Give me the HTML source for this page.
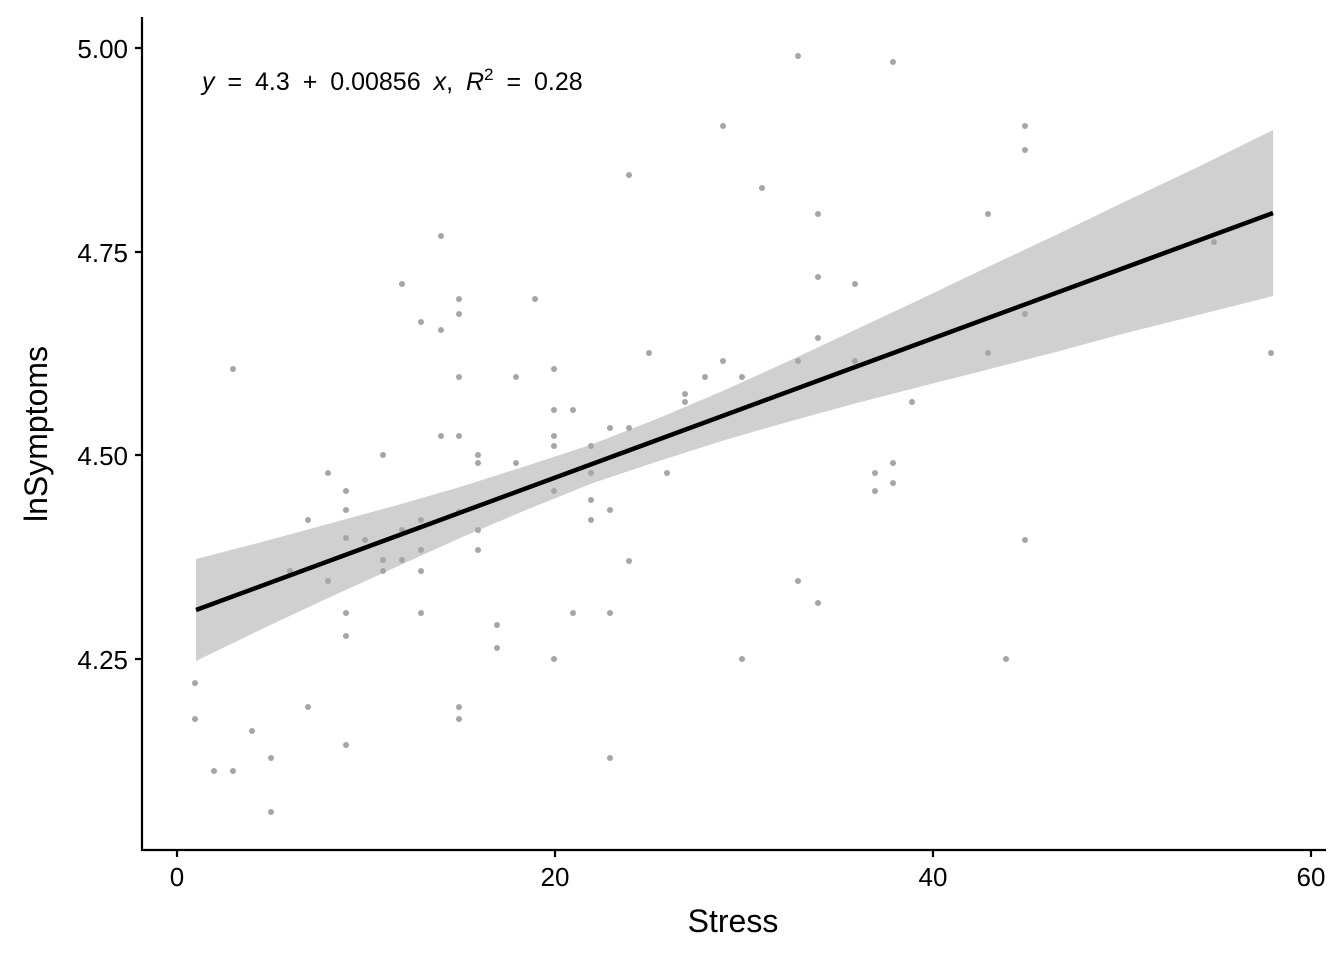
<!DOCTYPE html>
<html><head><meta charset="utf-8"><style>body{margin:0;background:#fff}svg{display:block}</style></head><body>
<svg width="1344" height="960" xmlns="http://www.w3.org/2000/svg" font-family="Liberation Sans, Arial, sans-serif">
<rect width="1344" height="960" fill="#fff"/>
<polygon fill="#d0d0d0" points="196,559 262,542 328,524 394,506 460,487 526,466 593,444 659,418 725,390 791,360 857,329 923,298 990,266 1056,235 1122,203 1198,167 1273,130 1273,296 1198,315 1122,334 1056,352 990,369 923,386 857,403 791,421 725,440 659,461 593,483 526,510 460,538 394,568 328,598 262,629 196,661"/>
<g fill="#a6a6a6">
<circle cx="798" cy="56" r="3"/><circle cx="893" cy="62" r="3"/><circle cx="723" cy="126" r="3"/><circle cx="1025" cy="126" r="3"/><circle cx="1025" cy="150" r="3"/><circle cx="629" cy="175" r="3"/><circle cx="762" cy="188" r="3"/><circle cx="818" cy="214" r="3"/><circle cx="988" cy="214" r="3"/><circle cx="441" cy="236" r="3"/><circle cx="1214" cy="242" r="3"/><circle cx="402" cy="284" r="3"/><circle cx="818" cy="277" r="3"/><circle cx="459" cy="299" r="3"/><circle cx="535" cy="299" r="3"/><circle cx="855" cy="284" r="3"/><circle cx="421" cy="322" r="3"/><circle cx="459" cy="314" r="3"/><circle cx="1025" cy="314" r="3"/><circle cx="441" cy="330" r="3"/><circle cx="818" cy="338" r="3"/><circle cx="649" cy="353" r="3"/><circle cx="723" cy="361" r="3"/><circle cx="798" cy="361" r="3"/><circle cx="855" cy="361" r="3"/><circle cx="988" cy="353" r="3"/><circle cx="233" cy="369" r="3"/><circle cx="1271" cy="353" r="3"/><circle cx="459" cy="377" r="3"/><circle cx="516" cy="377" r="3"/><circle cx="554" cy="369" r="3"/><circle cx="705" cy="377" r="3"/><circle cx="742" cy="377" r="3"/><circle cx="685" cy="394" r="3"/><circle cx="685" cy="402" r="3"/><circle cx="912" cy="402" r="3"/><circle cx="554" cy="410" r="3"/><circle cx="573" cy="410" r="3"/><circle cx="441" cy="436" r="3"/><circle cx="459" cy="436" r="3"/><circle cx="554" cy="436" r="3"/><circle cx="629" cy="428" r="3"/><circle cx="610" cy="428" r="3"/><circle cx="383" cy="455" r="3"/><circle cx="554" cy="446" r="3"/><circle cx="591" cy="446" r="3"/><circle cx="328" cy="473" r="3"/><circle cx="516" cy="463" r="3"/><circle cx="478" cy="455" r="3"/><circle cx="478" cy="463" r="3"/><circle cx="667" cy="473" r="3"/><circle cx="875" cy="473" r="3"/><circle cx="893" cy="463" r="3"/><circle cx="893" cy="483" r="3"/><circle cx="875" cy="491" r="3"/><circle cx="346" cy="491" r="3"/><circle cx="554" cy="491" r="3"/><circle cx="591" cy="473" r="3"/><circle cx="591" cy="500" r="3"/><circle cx="346" cy="510" r="3"/><circle cx="610" cy="510" r="3"/><circle cx="308" cy="520" r="3"/><circle cx="591" cy="520" r="3"/><circle cx="346" cy="538" r="3"/><circle cx="459" cy="512" r="3"/><circle cx="365" cy="540" r="3"/><circle cx="402" cy="530" r="3"/><circle cx="421" cy="520" r="3"/><circle cx="478" cy="530" r="3"/><circle cx="421" cy="550" r="3"/><circle cx="383" cy="560" r="3"/><circle cx="402" cy="560" r="3"/><circle cx="629" cy="561" r="3"/><circle cx="290" cy="571" r="3"/><circle cx="383" cy="571" r="3"/><circle cx="421" cy="571" r="3"/><circle cx="478" cy="550" r="3"/><circle cx="1025" cy="540" r="3"/><circle cx="328" cy="581" r="3"/><circle cx="798" cy="581" r="3"/><circle cx="346" cy="613" r="3"/><circle cx="421" cy="613" r="3"/><circle cx="573" cy="613" r="3"/><circle cx="610" cy="613" r="3"/><circle cx="818" cy="603" r="3"/><circle cx="497" cy="625" r="3"/><circle cx="346" cy="636" r="3"/><circle cx="497" cy="648" r="3"/><circle cx="554" cy="659" r="3"/><circle cx="742" cy="659" r="3"/><circle cx="1006" cy="659" r="3"/><circle cx="195" cy="683" r="3"/><circle cx="308" cy="707" r="3"/><circle cx="459" cy="707" r="3"/><circle cx="195" cy="719" r="3"/><circle cx="459" cy="719" r="3"/><circle cx="252" cy="731" r="3"/><circle cx="346" cy="745" r="3"/><circle cx="214" cy="771" r="3"/><circle cx="233" cy="771" r="3"/><circle cx="271" cy="758" r="3"/><circle cx="610" cy="758" r="3"/><circle cx="271" cy="812" r="3"/>
</g>
<line x1="196" y1="610" x2="1273" y2="213" stroke="#000" stroke-width="4.5"/>
<g stroke="#000" stroke-width="2.2" fill="none">
<path d="M142,17 V850 H1326"/>
<path d="M135,48 H142 M135,252 H142 M135,455 H142 M135,659 H142"/>
<path d="M177,850 V857 M555,850 V857 M933,850 V857 M1311,850 V857"/>
</g>
<g font-size="26" fill="#000" text-anchor="end">
<text x="128" y="58">5.00</text><text x="128" y="262">4.75</text><text x="128" y="465">4.50</text><text x="128" y="669">4.25</text>
</g>
<g font-size="26" fill="#000" text-anchor="middle">
<text x="177" y="886">0</text><text x="555" y="886">20</text><text x="933" y="886">40</text><text x="1311" y="886">60</text>
</g>
<text x="733" y="932" font-size="32" text-anchor="middle">Stress</text>
<text transform="translate(47,434) rotate(-90)" font-size="32" text-anchor="middle">lnSymptoms</text>
<text x="202" y="90" font-size="25" word-spacing="6"><tspan font-style="italic">y</tspan> = 4.3 + 0.00856 <tspan font-style="italic">x</tspan>, <tspan font-style="italic">R</tspan><tspan font-size="17" dy="-10">2</tspan><tspan dy="10"> = 0.28</tspan></text>
</svg>
</body></html>
